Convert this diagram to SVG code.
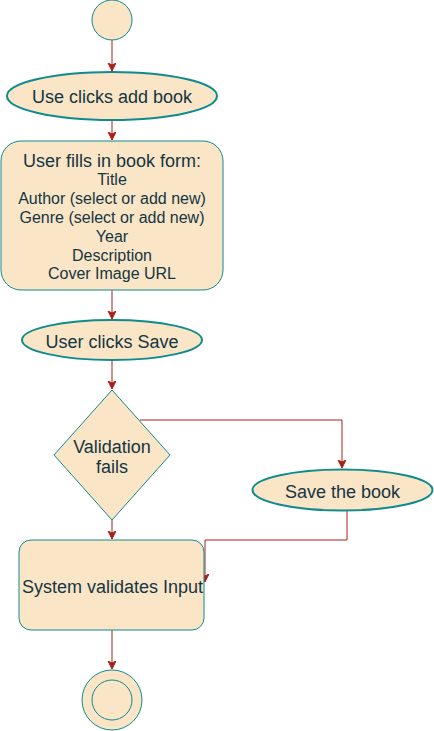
<svg xmlns="http://www.w3.org/2000/svg" width="434" height="731" viewBox="0 0 434 731">
<style>
.n{fill:#FAE5C7;stroke:#0F8B8D;stroke-width:1}
.e2{stroke-width:2}
.t{font-family:"Liberation Sans",Arial,sans-serif;fill:#143642;text-anchor:middle}
.l{font-size:18px}
.s{font-size:16px}
.c{fill:none;stroke:#A8201A;stroke-width:1}
</style>
<defs>
<marker id="ar" markerWidth="10" markerHeight="10" refX="8" refY="4" orient="auto" markerUnits="userSpaceOnUse">
<path d="M0,0 L8,4 L0,8 L2,4 z" fill="#A8201A" stroke="#A8201A" stroke-width="1"/>
</marker>
</defs>
<g id="connectors">
<path class="c" d="M112 40 V71" marker-end="url(#ar)"/>
<path class="c" d="M112 120 V140" marker-end="url(#ar)"/>
<path class="c" d="M112 290 V319" marker-end="url(#ar)"/>
<path class="c" d="M112 360 V389" marker-end="url(#ar)"/>
<path class="c" d="M140 420 H342 V468" marker-end="url(#ar)"/>
<path class="c" d="M112 520 V539" marker-end="url(#ar)"/>
<path class="c" d="M347 511 V540 H205 V582" marker-end="url(#ar)"/>
<path class="c" d="M112 630 V669" marker-end="url(#ar)"/>
</g>
<g id="start">
<circle class="n" cx="112" cy="20" r="20"/>
</g>
<g id="add-book">
<ellipse class="n e2" cx="112" cy="96" rx="105" ry="24"/>
<text class="t l" x="112" y="103">Use clicks add book</text>
</g>
<g id="fill-form">
<rect class="n" x="1" y="141" width="222" height="149" rx="20"/>
<text class="t l" x="112" y="167">User fills in book form:</text>
<text class="t s" x="112" y="185">Title</text>
<text class="t s" x="112" y="204">Author (select or add new)</text>
<text class="t s" x="112" y="223">Genre (select or add new)</text>
<text class="t s" x="112" y="242">Year</text>
<text class="t s" x="112" y="261">Description</text>
<text class="t s" x="112" y="279">Cover Image URL</text>
</g>
<g id="click-save">
<ellipse class="n e2" cx="112" cy="340" rx="90" ry="20"/>
<text class="t l" x="112" y="348">User clicks Save</text>
</g>
<g id="validation">
<polygon class="n" points="112,390 170,455 112,520 54,455"/>
<text class="t l" x="112" y="453">Validation</text>
<text class="t l" x="112" y="473">fails</text>
</g>
<g id="save-book">
<ellipse class="n e2" cx="342.5" cy="490" rx="90" ry="20.5"/>
<text class="t l" x="342.5" y="498">Save the book</text>
</g>
<g id="system-validates">
<rect class="n" x="19" y="540" width="185" height="90" rx="12"/>
<text class="t l" x="112.5" y="593">System validates Input</text>
</g>
<g id="end">
<circle class="n" cx="112" cy="700" r="30"/>
<circle class="n" cx="112" cy="700" r="20"/>
</g>
</svg>
